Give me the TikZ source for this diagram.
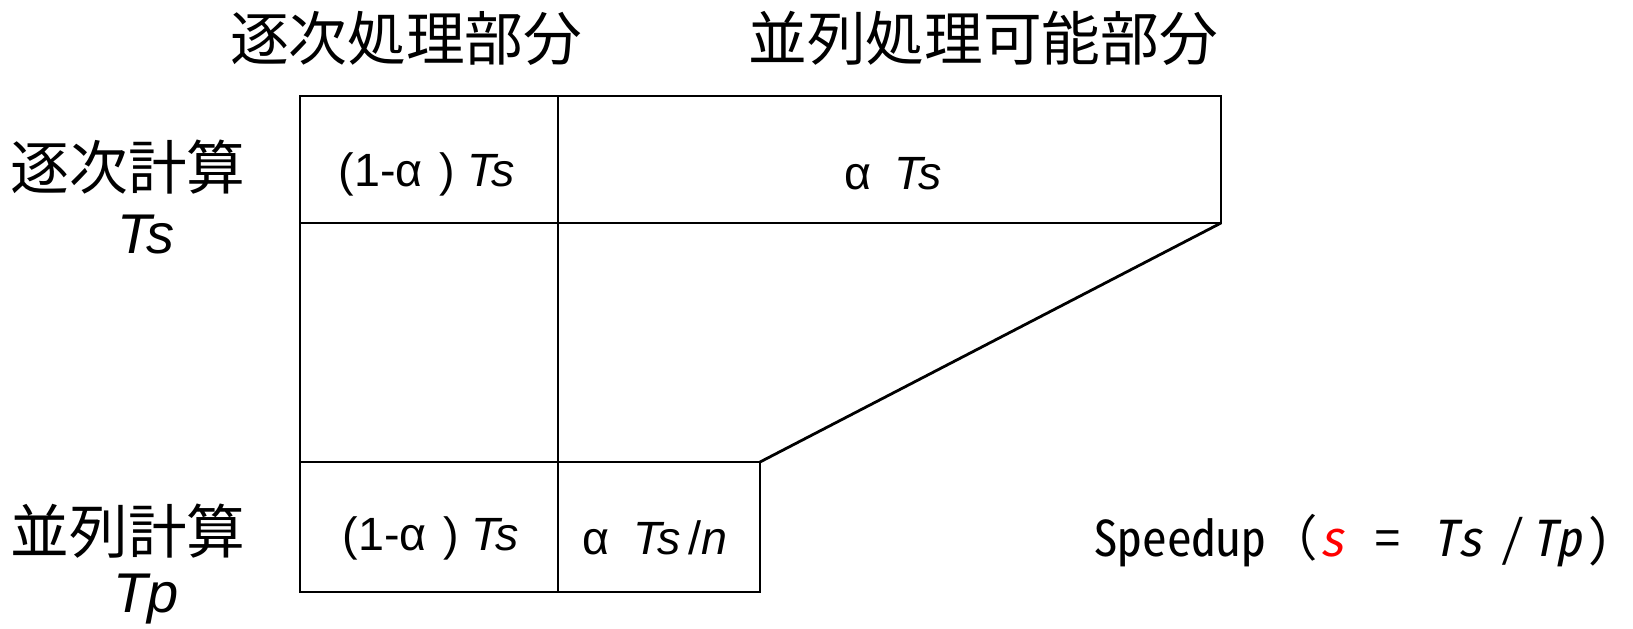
\documentclass[tikz,border=0pt]{standalone}
\usepackage{fontspec}
\setmainfont{Liberation Sans}
\newfontfamily\cjk{Noto Sans CJK JP}
\newfontfamily\hw[RawFeature=+hwid]{Noto Sans CJK JP}
\newfontfamily\hwit[RawFeature=+hwid,FakeSlant=0.2]{Noto Sans CJK JP}
\newfontfamily\lat{Liberation Sans}
\begin{document}
\begin{tikzpicture}[x=0.75pt,y=-0.75pt,
  box/.style={line width=2.1pt,line join=miter},
  head/.style={font=\cjk\fontsize{44}{50}\selectfont,inner sep=0pt},
  sideit/.style={font=\lat\itshape\fontsize{42}{48}\selectfont,inner sep=0pt},
  cell/.style={font=\lat\fontsize{35}{40}\selectfont,inner sep=0pt},
  speed/.style={font=\hw\fontsize{37}{44}\selectfont,inner sep=0pt,anchor=base west}]
\useasboundingbox (0,0) rectangle (1633,628);
% corner coordinates
\coordinate (tl) at (300,96);
\coordinate (tm) at (558,96);
\coordinate (tr) at (1221,96);
\coordinate (ml) at (300,223);
\coordinate (mm) at (558,223);
\coordinate (mr) at (1221,223);
\coordinate (bl) at (300,462);
\coordinate (bm) at (558,462);
\coordinate (br) at (760,462);
\coordinate (el) at (300,592);
\coordinate (em) at (558,592);
\coordinate (er) at (760,592);
% outlines
\draw[box] (ml) -- (tl) -- (tr) -- (mr) -- cycle;
\draw[box] (tm) -- (em);
\draw[box] (ml) -- (el) -- (er) -- (br) -- (bl);
\draw[box] (mr) -- (br);
% headings
\node[head] (h1) at (406,38) {逐次処理部分};
\node[head] (h2) at (983,38) {並列処理可能部分};
\node[head] (s1) at (128,167) {逐次計算};
\node[sideit] (s1t) at (146,235) {Ts};
\node[head] (s2) at (128,531) {並列計算};
\node[sideit] (s2t) at (146,599) {Tp};
% cells
\node[cell] (c1) at (427,174) {(1-α\hspace{0.35em}) \textit{Ts}};
\node[cell] (c2) at (893,174) {α\hspace{0.5em}\textit{Ts}};
\node[cell] (c3) at (431,538) {(1-α\hspace{0.35em}) \textit{Ts}};
\node[cell] (c4) at (655,538) {α\hspace{0.5em}\textit{Ts}\,/\textit{n}};
% speedup
\node[speed] (sp) at (1093,556) {Speedup\hspace{2pt}{\cjk （}\hspace{1pt}{\hwit\color{red}s}\hspace{24pt}=\hspace{24pt}{\hwit Ts}\hspace{14pt}/\hspace{5pt}{\hwit Tp}\hspace{4pt})};
\end{tikzpicture}
\end{document}
